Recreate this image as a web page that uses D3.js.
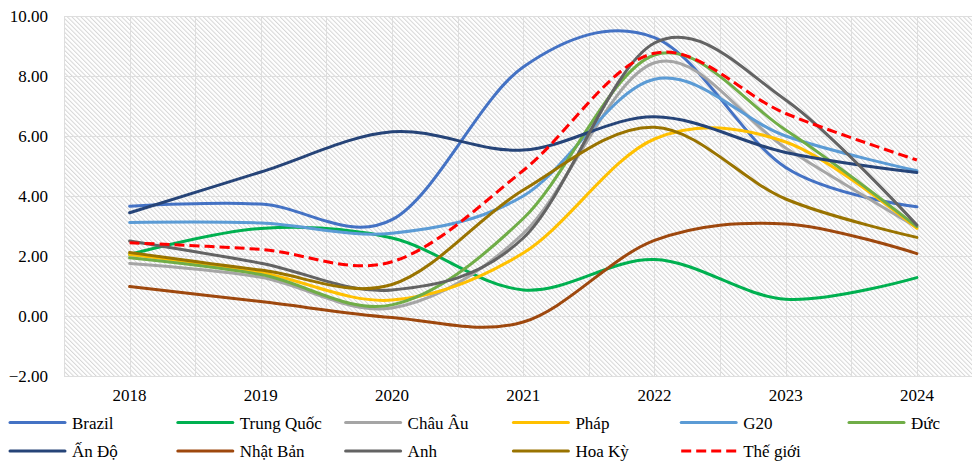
<!DOCTYPE html>
<html>
<head>
<meta charset="utf-8">
<script src="https://cdn.jsdelivr.net/npm/d3@7"></script>
<style>
  body { margin: 0; background: #fff; }
  svg text { font-family: "Liberation Serif", "Times New Roman", "DejaVu Serif", serif !important; }
</style>
</head>
<body>
<svg id="chart"></svg>
<script>
// Data
const years = ["2018", "2019", "2020", "2021", "2022", "2023", "2024"];
const yTicks = [-2, 0, 2, 4, 6, 8, 10];

const brazil     = [3.66, 3.73, 3.21, 8.30, 9.28, 4.95, 3.64];
const trungQuoc  = [2.05, 2.92, 2.60, 0.87, 1.88, 0.56, 1.28];
const chauAu     = [1.75, 1.29, 0.27, 2.75, 8.44, 5.60, 2.95];
const phap       = [2.05, 1.45, 0.53, 2.10, 5.90, 5.80, 2.92];
const g20        = [3.12, 3.10, 2.76, 4.00, 7.89, 6.00, 4.84];
const duc        = [1.94, 1.38, 0.37, 3.25, 8.70, 6.20, 2.98];
const anDo       = [3.44, 4.80, 6.14, 5.53, 6.64, 5.45, 4.78];
const nhatBan    = [0.98, 0.48, -0.05, -0.20, 2.52, 3.07, 2.08];
const anh        = [2.50, 1.76, 0.87, 2.60, 9.10, 7.20, 3.03];
const hoaKy      = [2.12, 1.53, 1.05, 4.20, 6.29, 3.90, 2.62];
const theGioi    = [2.44, 2.22, 1.81, 4.85, 8.76, 6.75, 5.20];

const seriesNames = ["Brazil", "Trung Quốc", "Châu Âu", "Pháp", "G20", "Đức",
                     "Ấn Độ", "Nhật Bản", "Anh", "Hoa Kỳ", "Thế giới"];
const seriesValues = [brazil, trungQuoc, chauAu, phap, g20, duc,
                      anDo, nhatBan, anh, hoaKy, theGioi];
const colors = ["#4472C4", "#00B050", "#A5A5A5", "#FFC000", "#5B9BD5", "#70AD47",
                "#264478", "#9E480E", "#636363", "#997300", "#FF0000"];

const series = seriesNames.map((name, i) => ({
    name: name,
    values: seriesValues[i],
    color: colors[i],
    dashed: name === "Thế giới"
}));

// Dimensions
const W = 972, H = 463;
const plot = { left: 64, right: 982.5, top: 16, bottom: 376 };

const svg = d3.select("#chart")
    .attr("width", W)
    .attr("height", H);

// Hatched background pattern
const defs = svg.append("defs");
const pat = defs.append("pattern")
    .attr("id", "hatch")
    .attr("patternUnits", "userSpaceOnUse")
    .attr("width", 3.2)
    .attr("height", 3.2)
    .attr("patternTransform", "rotate(-45)");
pat.append("rect").attr("width", 3.2).attr("height", 3.2).attr("fill", "#fff");
pat.append("line")
    .attr("x1", 0.5).attr("y1", 0)
    .attr("x2", 0.5).attr("y2", 3.2)
    .attr("stroke", "#d6d6d6")
    .attr("stroke-width", 1);

// Scales
const x = d3.scaleBand()
    .domain(years)
    .range([plot.left, plot.right]);
const xc = d => x(d) + x.bandwidth() / 2;

const y = d3.scaleLinear()
    .domain([-2, 10])
    .range([plot.bottom, plot.top]);

// Plot area
svg.append("rect")
    .attr("x", plot.left)
    .attr("y", plot.top)
    .attr("width", plot.right - plot.left)
    .attr("height", plot.bottom - plot.top)
    .attr("fill", "url(#hatch)");

// Gridlines
const grid = svg.append("g").attr("stroke", "#dedede").attr("stroke-width", 1);
grid.selectAll("line.h")
    .data(yTicks)
  .enter().append("line")
    .attr("class", "h")
    .attr("x1", plot.left).attr("x2", plot.right)
    .attr("y1", d => Math.round(y(d)) + 0.5)
    .attr("y2", d => Math.round(y(d)) + 0.5);

const vGrid = [];
years.forEach(d => { vGrid.push(x(d)); vGrid.push(xc(d)); });
vGrid.push(plot.right);
grid.selectAll("line.v")
    .data(vGrid)
  .enter().append("line")
    .attr("class", "v")
    .attr("y1", plot.top).attr("y2", plot.bottom)
    .attr("x1", d => Math.round(d) + 0.5)
    .attr("x2", d => Math.round(d) + 0.5);

// Y axis labels
const yAxis = d3.axisLeft(y).tickValues(yTicks).tickFormat(d3.format(".2f")).tickSize(0).tickPadding(0);
const yAxisGroup = svg.append("g")
    .attr("transform", "translate(48,0)")
    .call(yAxis)
    .attr("font-size", 17);
yAxisGroup.select(".domain").remove();
yAxisGroup.selectAll("text").attr("fill", "#000");

// X axis labels
const xAxis = d3.axisBottom(x).tickSize(0).tickPadding(0);
const xAxisGroup = svg.append("g")
    .attr("transform", "translate(0,389)")
    .call(xAxis)
    .attr("font-size", 17);
xAxisGroup.select(".domain").remove();
xAxisGroup.selectAll("text").attr("fill", "#000");

// Lines
const line = d3.line()
    .x((v, i) => xc(years[i]))
    .y(v => y(v))
    .curve(d3.curveCardinal.tension(0));

svg.append("g")
    .selectAll("path")
    .data(series)
  .enter().append("path")
    .attr("d", d => line(d.values))
    .attr("fill", "none")
    .attr("stroke", d => d.color)
    .attr("stroke-width", 3)
    .attr("stroke-linecap", d => d.dashed ? "butt" : "round")
    .attr("stroke-dasharray", d => d.dashed ? "10,5" : null);

// Legend
const legend = svg.append("g");
const colW = 167.8;
const item = legend.selectAll("g")
    .data(series)
  .enter().append("g")
    .attr("transform", (d, i) => `translate(${9 + (i % 6) * colW},${i < 6 ? 422.5 : 451})`);

item.append("line")
    .attr("x1", 1).attr("x2", 56)
    .attr("y1", 0).attr("y2", 0)
    .attr("stroke", d => d.color)
    .attr("stroke-width", 3)
    .attr("stroke-linecap", d => d.dashed ? "butt" : "round")
    .attr("stroke-dasharray", d => d.dashed ? "10,5" : null);

item.append("text")
    .attr("x", 63)
    .attr("y", 6)
    .attr("font-size", 17)
    .attr("fill", "#000")
    .text(d => d.name);
</script>
</body>
</html>
